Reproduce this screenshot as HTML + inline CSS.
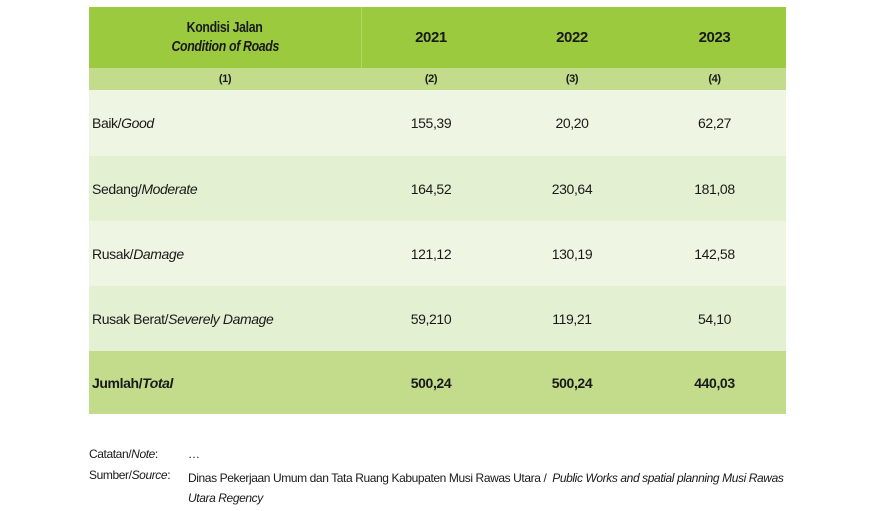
<!DOCTYPE html>
<html><head><meta charset="utf-8"><style>
body{margin:0;width:875px;height:511px;background:#fff;font-family:"Liberation Sans Narrow","Liberation Sans",sans-serif;color:#1a1a1a;position:relative;overflow:hidden}
.r{position:absolute;left:89px;width:697px}
.c{position:absolute;top:0;height:100%;display:flex;align-items:center;justify-content:center;font-size:14px;letter-spacing:-0.4px}
.c0{left:0;width:272px}.c1{left:272px;width:140px}.c2{left:412px;width:142px}.c3{left:554px;width:143px}
.lbl{justify-content:flex-start;padding-left:3px}
b{font-weight:bold}
.n{position:absolute;font-size:12px;letter-spacing:-0.4px}
</style></head><body>
<div class="r" style="top:7px;height:61px;background:#9bca3e;font-weight:bold">
 <div class="c c0" style="flex-direction:column;line-height:19px;border-right:1px solid #b4d66c;font-size:14.5px"><span style="transform:scaleX(0.85)">Kondisi Jalan</span><i style="transform:scaleX(0.85)">Condition of Roads</i></div>
 <div class="c c1" style="font-size:15px">2021</div>
 <div class="c c2" style="font-size:15px">2022</div>
 <div class="c c3" style="font-size:15px">2023</div>
</div>
<div class="r" style="top:68px;height:22px;background:#c2dc8c;font-weight:bold">
 <div class="c c0" style="font-size:11px">(1)</div>
 <div class="c c1" style="font-size:11px">(2)</div>
 <div class="c c2" style="font-size:11px">(3)</div>
 <div class="c c3" style="font-size:11px">(4)</div>
</div>
<div class="r" style="top:90px;height:66px;background:#eff5e3">
 <div class="c c0 lbl">Baik/<i>Good</i></div>
 <div class="c c1">155,39</div>
 <div class="c c2">20,20</div>
 <div class="c c3">62,27</div>
</div>
<div class="r" style="top:156px;height:65px;background:#e4f0d2">
 <div class="c c0 lbl">Sedang/<i>Moderate</i></div>
 <div class="c c1">164,52</div>
 <div class="c c2">230,64</div>
 <div class="c c3">181,08</div>
</div>
<div class="r" style="top:221px;height:65px;background:#eff5e3">
 <div class="c c0 lbl">Rusak/<i>Damage</i></div>
 <div class="c c1">121,12</div>
 <div class="c c2">130,19</div>
 <div class="c c3">142,58</div>
</div>
<div class="r" style="top:286px;height:65px;background:#e4f0d2">
 <div class="c c0 lbl">Rusak Berat/<i>Severely Damage</i></div>
 <div class="c c1">59,210</div>
 <div class="c c2">119,21</div>
 <div class="c c3">54,10</div>
</div>
<div class="r" style="top:351px;height:63px;background:#c2dc8c;font-weight:bold">
 <div class="c c0 lbl"><b>Jumlah/<i>Total</i></b></div>
 <div class="c c1">500,24</div>
 <div class="c c2">500,24</div>
 <div class="c c3">440,03</div>
</div>
<div class="n" style="left:89px;top:447px">Catatan/<i>Note</i>:</div>
<div class="n" style="left:188px;top:447px">…</div>
<div class="n" style="left:89px;top:468px">Sumber/<i>Source</i>:</div>
<div class="n" style="left:188px;top:468px;width:620px;line-height:20px;white-space:nowrap">Dinas Pekerjaan Umum dan Tata Ruang Kabupaten Musi Rawas Utara / &nbsp;<i>Public Works and spatial planning Musi Rawas</i><br><i>Utara Regency</i></div>
</body></html>
